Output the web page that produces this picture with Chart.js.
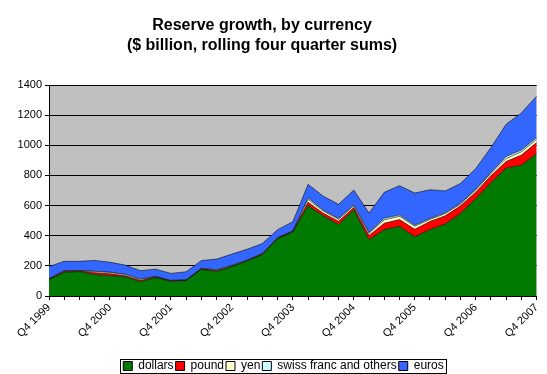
<!DOCTYPE html>
<html>
<head>
<meta charset="utf-8">
<script src="https://cdn.jsdelivr.net/npm/chart.js@4"></script>
<style>
  body { margin: 0; background: #fff; }
</style>
</head>
<body>
<canvas id="reserveChart" width="547" height="374"></canvas>
<script>
// --- Data (rolling four quarter sums, $ billion) ---
const quarters = [
  "Q4 1999", "Q1 2000", "Q2 2000", "Q3 2000",
  "Q4 2000", "Q1 2001", "Q2 2001", "Q3 2001",
  "Q4 2001", "Q1 2002", "Q2 2002", "Q3 2002",
  "Q4 2002", "Q1 2003", "Q2 2003", "Q3 2003",
  "Q4 2003", "Q1 2004", "Q2 2004", "Q3 2004",
  "Q4 2004", "Q1 2005", "Q2 2005", "Q3 2005",
  "Q4 2005", "Q1 2006", "Q2 2006", "Q3 2006",
  "Q4 2006", "Q1 2007", "Q2 2007", "Q3 2007",
  "Q4 2007",
];
const dollars = [110, 157, 162, 142, 135, 127, 95, 122, 97, 102, 177, 163, 195, 232, 275, 380,
  425, 600, 532, 474, 572, 374, 441, 462, 393, 442, 477, 548, 645, 752, 850, 868, 945];
const pound = [2, 6, 4, 13, 13, 8, 8, 4, 3, 2, 3, 5, 3, 2, 3, 3,
  3, 22, 17, 22, 15, 28, 42, 45, 50, 53, 55, 50, 44, 46, 43, 67, 73];
const yen = [2, 3, 2, 7, 8, 7, 7, 2, 2, 2, 2, 4, 4, 3, 3, 3,
  2, 18, 14, 13, 11, 14, 22, 22, 19, 13, 14, 12, 14, 15, 19, 22, 21];
const swissAndOthers = [2, 2, 2, 2, 2, 2, 2, 2, 2, 2, 2, 2, 2, 2, 2, 2,
  2, 11, 6, 6, 6, 6, 11, 8, 8, 7, 6, 6, 6, 7, 14, 11, 12];
const euros = [79, 62, 60, 72, 66, 61, 56, 48, 46, 53, 51, 71, 74, 71, 65, 52,
  61, 90, 93, 93, 99, 128, 172, 195, 213, 190, 145, 131, 136, 165, 214, 247, 275];
const titleLines = ["Reserve growth, by currency", "($ billion, rolling four quarter sums)"];

const FONT = "'Liberation Sans', Arial, sans-serif";

// --- Plugins ---
// silver plot area like the spreadsheet chart
const plotBackground = {
  id: "plotBackground",
  beforeDraw(chart) {
    const { ctx, chartArea: a } = chart;
    ctx.save();
    ctx.fillStyle = "#c0c0c0";
    ctx.fillRect(a.left, a.top, a.right - a.left, a.bottom - a.top);
    ctx.restore();
  },
};

// two-line title, sitting a little left of the canvas centre as in the original
const titleText = {
  id: "titleText",
  afterDraw(chart) {
    const ctx = chart.ctx;
    ctx.save();
    ctx.fillStyle = "#000";
    ctx.font = "bold 16px " + FONT;
    ctx.textAlign = "center";
    ctx.textBaseline = "middle";
    ctx.fillText(titleLines[0], 262, 26);
    ctx.fillText(titleLines[1], 262, 46);
    ctx.restore();
  },
};

// legend sits a bit right of centre in the original
const legendShift = {
  id: "legendShift",
  afterLayout(chart) {
    chart.legend.left += 14;
    chart.legend.right += 14;
  },
};

// thin frame round the legend items
const legendFrame = {
  id: "legendFrame",
  afterDraw(chart) {
    const boxes = chart.legend.legendHitBoxes;
    if (!boxes || !boxes.length) return;
    const left = Math.min(...boxes.map((b) => b.left)) - 3;
    const right = Math.max(...boxes.map((b) => b.left + b.width)) + 3;
    const top = Math.min(...boxes.map((b) => b.top)) - 1;
    const bottom = Math.max(...boxes.map((b) => b.top + b.height)) + 1;
    const ctx = chart.ctx;
    ctx.save();
    ctx.strokeStyle = "#000";
    ctx.lineWidth = 1;
    ctx.strokeRect(Math.round(left) + 0.5, Math.round(top) + 0.5, Math.round(right - left), Math.round(bottom - top));
    ctx.restore();
  },
};

function areaSet(label, data, color, fill) {
  return {
    label,
    data,
    backgroundColor: color,
    borderColor: "rgba(0,0,0,0.55)",
    borderWidth: 1,
    fill,
    pointRadius: 0,
    tension: 0,
  };
}

const ctx = document.getElementById("reserveChart").getContext("2d");

new Chart(ctx, {
  type: "line",
  data: {
    labels: quarters,
    datasets: [
      areaSet("dollars", dollars, "#007a00", "origin"),
      areaSet("pound", pound, "#ff0000", "-1"),
      areaSet("yen", yen, "#ffffcc", "-1"),
      areaSet("swiss franc and others", swissAndOthers, "#ccffff", "-1"),
      areaSet("euros", euros, "#3366ff", "-1"),
    ],
  },
  options: {
    responsive: false,
    devicePixelRatio: 1,
    animation: false,
    layout: { padding: { left: 0, right: 8, top: 85, bottom: -8 } },
    plugins: {
      title: { display: false },
      legend: {
        position: "bottom",
        labels: {
          color: "#000",
          font: { family: FONT, size: 12 },
          boxWidth: 9,
          boxHeight: 9,
          padding: 2,
          generateLabels(chart) {
            return chart.data.datasets.map((ds, i) => ({
              text: ds.label,
              fillStyle: ds.backgroundColor,
              strokeStyle: "#000",
              lineWidth: 1,
              hidden: false,
              datasetIndex: i,
            }));
          },
        },
      },
      tooltip: { enabled: false },
    },
    scales: {
      x: {
        grid: { drawOnChartArea: false, color: "#000", tickLength: 4 },
        border: { color: "#000" },
        ticks: {
          autoSkip: false,
          maxRotation: 45,
          minRotation: 45,
          color: "#000",
          font: { family: FONT, size: 11 },
          padding: 1,
          callback(value, index) {
            return index % 4 === 0 ? quarters[index] : "";
          },
        },
        afterFit(scale) {
          scale.height = 62;
        },
      },
      y: {
        stacked: true,
        min: 0,
        max: 1400,
        ticks: {
          stepSize: 200,
          color: "#000",
          font: { family: FONT, size: 11 },
          padding: 3,
          callback: (v) => String(v),
        },
        grid: { color: "#000", tickLength: 4 },
        border: { color: "#000" },
        afterFit(scale) {
          scale.width = 49;
        },
      },
    },
  },
  plugins: [plotBackground, titleText, legendShift, legendFrame],
});
</script>
</body>
</html>
